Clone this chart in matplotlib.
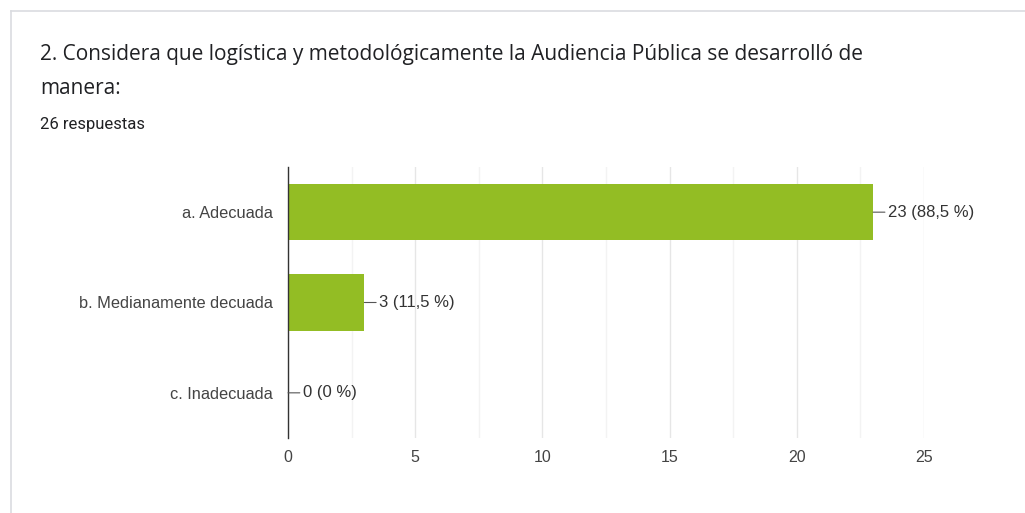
import matplotlib
matplotlib.use("Agg")
import matplotlib.pyplot as plt
from matplotlib.lines import Line2D

categories = ["a. Adecuada", "b. Medianamente decuada", "c. Inadecuada"]
values = [23, 3, 0]
labels = ["23 (88,5 %)", "3 (11,5 %)", "0 (0 %)"]
xticks = [0, 5, 10, 15, 20, 25]
title_lines = ["2. Considera que logística y metodológicamente la Audiencia Pública se desarrolló de",
               "manera:"]
subtitle = "26 respuestas"

W, H = 1025, 513
fig = plt.figure(figsize=(W / 100, H / 100), dpi=100)
fig.patch.set_facecolor("white")

# card border
fig.add_artist(Line2D([11 / W, 1.0], [1 - 11 / H, 1 - 11 / H], color="#dadce0", lw=1.2))
fig.add_artist(Line2D([11 / W, 11 / W], [0, 1 - 11 / H], color="#dadce0", lw=1.2))

for i, line in enumerate(title_lines):
    fig.text(40 / W, 1 - (55 + 33 * i) / H, line, fontsize=15, color="#202124",
             family=["Open Sans", "DejaVu Sans"], va="center", ha="left")
fig.text(40 / W, 1 - 124 / H, subtitle, fontsize=12, color="#202124",
         family=["Roboto", "DejaVu Sans"], va="center", ha="left")

ax = fig.add_axes([288 / W, (H - 438) / H, (924 - 288) / W, (438 - 167) / H])
ypos = list(range(len(categories)))
ax.barh(ypos, values, height=0.62, color="#93bd24", zorder=3)
ax.set_ylim(2.5, -0.5)
ax.set_xlim(0, 25)
ax.set_yticks(ypos)
ax.set_yticklabels(categories)
ax.set_xticks(xticks)
ax.set_xticks([2.5, 7.5, 12.5, 17.5, 22.5], minor=True)
ax.tick_params(axis="both", which="both", length=0, labelsize=11.5, colors="#444444")
ax.tick_params(axis="y", pad=11, labelsize=11.8)
ax.tick_params(axis="x", pad=9)
for lab in ax.get_xticklabels() + ax.get_yticklabels():
    lab.set_family(["Liberation Sans", "DejaVu Sans"])
ax.grid(axis="x", which="major", color="#e6e6e6", lw=1, zorder=0)
ax.grid(axis="x", which="minor", color="#f3f3f3", lw=1, zorder=0)
ax.grid(axis="y", visible=False)
for s in ["top", "right", "bottom"]:
    ax.spines[s].set_visible(False)
ax.spines["left"].set_color("#333333")
ax.spines["left"].set_linewidth(1)
ax.spines["left"].set_zorder(4)

for y, v, t in zip(ypos, values, labels):
    ax.annotate(t, xy=(v, y), xytext=(10.5, 0), textcoords="offset points",
                ha="left", va="center", fontsize=12, color="#333333",
                family=["Liberation Sans", "DejaVu Sans"],
                arrowprops=dict(arrowstyle="-", color="#555555", lw=0.8,
                                shrinkA=0, shrinkB=0), zorder=5)

fig.savefig("out.png", dpi=100, facecolor="white")
